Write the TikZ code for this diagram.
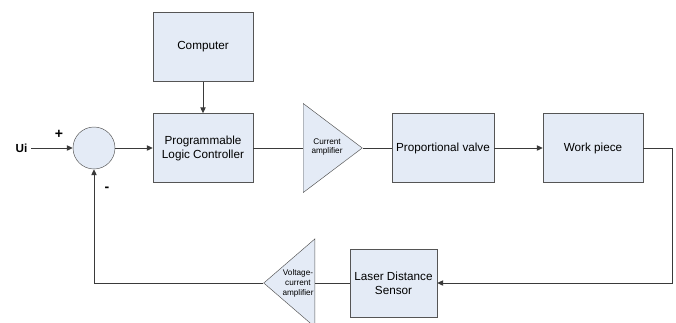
\documentclass[tikz,border=0pt]{standalone}
\usepackage{fontspec}
\setmainfont{Liberation Sans}
\usetikzlibrary{shapes.geometric,arrows.meta}
\definecolor{boxfill}{HTML}{E4EBF6}
\definecolor{edgegray}{HTML}{555555}
\definecolor{wiregray}{HTML}{3A3A3A}

\begin{document}
\begin{tikzpicture}[x=0.03cm,y=-0.03cm]
  \tikzstyle{block} = [rectangle, draw=edgegray, fill=boxfill, minimum width=3cm, minimum height=2.07cm, align=center, font=\fontsize{10}{12}\selectfont]
  \tikzstyle{amp} = [isosceles triangle, isosceles triangle stretches, draw=edgegray, fill=boxfill, inner sep=0pt]
  \tikzstyle{amptext} = [align=center, inner sep=0pt, font=\fontsize{7}{8.5}\selectfont]
  \tikzstyle{arrow} = [draw=wiregray, thick, -{Triangle[length=5pt,width=4.5pt]}]
  \tikzstyle{wire} = [draw=wiregray, thick]

  \useasboundingbox (0,0) rectangle (676,322);

  % Forward path
  \node [font=\bfseries\fontsize{10}{12}\selectfont] (ui) at (21.5,148) {Ui};
  \node [circle, draw=edgegray, fill=boxfill, minimum size=1.26cm, inner sep=0pt] (sum) at (94,148) {};
  \node [block] (computer) at (203,47) {Computer};
  \node [block] (plc) at (203,148) {Programmable\\Logic Controller};
  \node [amp, shape border rotate=0, minimum height=1.77cm, minimum width=2.67cm, anchor=west] (camp) at (303,148) {};
  \node [amptext] (camptext) at (327,147) {Current\\amplifier};
  \node [block] (valve) at (443,148) {Proportional valve};
  \node [block] (work) at (593,148) {Work piece};

  % Feedback path
  \coordinate (rturn) at (672,148);
  \node [block, minimum width=2.61cm, minimum height=2.04cm] (sensor) at (393.5,283) {Laser Distance\\Sensor};
  \node [amp, shape border rotate=180, minimum height=1.53cm, minimum width=2.64cm, anchor=east] (vamp) at (315,283) {};
  \node [amptext] (vamptext) at (298,283) {Voltage-\\current\\amplifier};

  % Signs
  \node [font=\bfseries\fontsize{12}{12}\selectfont] (plus) at (59,134) {+};
  \node [font=\bfseries\fontsize{12}{12}\selectfont] (minus) at (107,189) {-};

  % Connectors
  \draw [arrow] (ui.east) -- (sum.west);
  \draw [arrow] (sum.east) -- (plc.west);
  \draw [arrow] (computer.south) -- (plc.north);
  \draw [wire] (plc.east) -- (camp.west);
  \draw [wire] (camp.apex) -- (valve.west);
  \draw [arrow] (valve.east) -- (work.west);
  \draw [arrow] (work.east) -- (rturn) |- (sensor.east);
  \draw [wire] (sensor.west) -- (vamp.east);
  \draw [arrow] (vamp.apex) -| (sum.south);
\end{tikzpicture}
\end{document}
